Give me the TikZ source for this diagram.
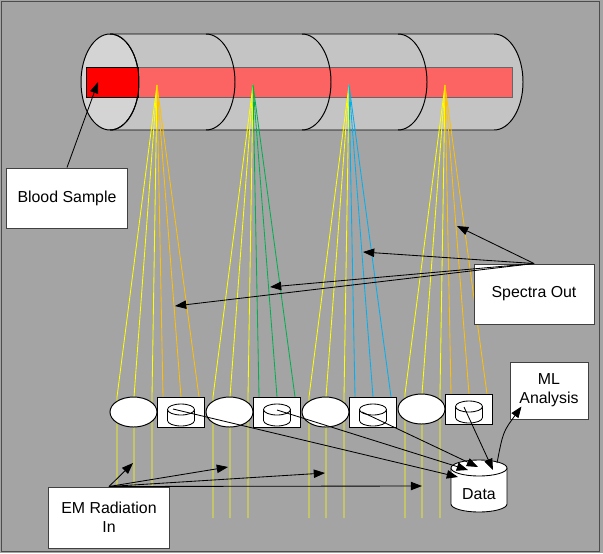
\documentclass[tikz,border=0pt]{standalone}
\usepackage{fontspec}
\setmainfont{Liberation Sans}
\definecolor{bggray}{RGB}{164,164,164}
\definecolor{tubegray}{RGB}{196,196,196}
\definecolor{facegray}{RGB}{212,212,212}
\definecolor{samplepink}{RGB}{252,100,100}
\definecolor{rayyellow}{RGB}{255,255,0}
\definecolor{rayorange}{RGB}{255,192,0}
\definecolor{raygreen}{RGB}{0,176,80}
\definecolor{rayblue}{RGB}{0,176,240}
\usetikzlibrary{shapes.geometric, arrows.meta, calc}

\begin{document}
\begin{tikzpicture}[x=0.025cm, y=-0.025cm,
  labelbox/.style={draw=black!75, fill=white, line width=0.7pt, inner sep=0pt, align=center, font=\fontsize{11.3}{13.5}\selectfont},
  sensor/.style={ellipse, draw, fill=white, line width=0.7pt, minimum width=1.175cm, minimum height=0.75cm, inner sep=0pt},
  detbox/.style={draw, fill=white, line width=0.7pt, minimum width=1.175cm, minimum height=0.75cm, inner sep=0pt},
  drum/.style={draw, fill=white, line width=0.6pt},
  ray/.style={line width=0.6pt},
  arr/.style={-{Triangle[length=8pt, width=6pt]}, line width=0.6pt}]

  % background and frame
  \fill[bggray] (0,0) rectangle (603,553);
  \draw[black!70, line width=1pt] (1.5,1.5) rectangle (599.5,551.5);

  % tube
  \fill[tubegray] (110,34) -- (494,34) arc[start angle=-90, end angle=90, x radius=29, y radius=48] -- (110,130) -- cycle;
  \draw[line width=0.7pt] (110,34) -- (494,34) arc[start angle=-90, end angle=90, x radius=29, y radius=48] -- (110,130);
  \draw[fill=facegray, line width=0.7pt] (110,82) ellipse[x radius=29, y radius=48];
  \draw[fill=samplepink, draw=black!60, line width=0.7pt] (86,67) rectangle (512,97);
  \draw[fill=red, line width=0.7pt] (86,67) rectangle (138,97);
  \foreach \cx in {110,206,302,398}
    \draw[line width=0.7pt] (\cx,34) arc[start angle=-90, end angle=90, x radius=29, y radius=48];

  % spectrometers
  \foreach \k/\yy/\col in {0/412/rayorange, 1/412/raygreen, 2/412/rayblue, 3/409/rayorange} {
    \pgfmathsetmacro{\bx}{110+96*\k}
    \pgfmathsetmacro{\cx}{\bx+71}
    \coordinate (apex\k) at (\bx+47,85);
    \foreach \dx in {7,24,42}
      \draw[ray, rayyellow] (apex\k) -- (\bx+\dx,\yy-15) -- (\bx+\dx,518);
    \foreach \dx in {53,71,89}
      \draw[ray, \col] (apex\k) -- (\bx+\dx,\yy-15);
    \node[sensor] (ell\k) at (\bx+23.5,\yy) {};
    \node[detbox] (det\k) at (\cx,\yy) {};
    \draw[drum] (\cx-13.5,\yy-2.5) -- (\cx-13.5,\yy+8.5) arc[start angle=180, end angle=0, x radius=13.5, y radius=5.5] -- (\cx+13.5,\yy-2.5);
    \draw[drum] (\cx,\yy-2.5) ellipse[x radius=13.5, y radius=5.5];
  }

  % labels
  \node[labelbox, minimum width=3cm, minimum height=1.5cm] (blood) at (67,198) {Blood Sample};
  \node[labelbox, minimum width=3cm, minimum height=1.5cm] (spec) at (534,294) {Spectra Out};
  \node[labelbox, minimum width=1.95cm, minimum height=1.425cm] (ml) at (549,390.5) {ML\\Analysis};
  \node[labelbox, minimum width=3cm, minimum height=1.525cm] (em) at (109,517.5) {EM Radiation\\In};

  % data store
  \draw[drum] (451,468) -- (451,504) arc[start angle=180, end angle=0, x radius=28, y radius=8] -- (507,468);
  \draw[drum] (479,468) ellipse[x radius=28, y radius=8];
  \node[font=\fontsize{11.3}{13.5}\selectfont, inner sep=0pt] (data) at (479,494) {Data};

  % arrows
  \coordinate (sample) at (98,82);
  \draw[arr] (blood.north) -- (sample);
  \foreach \tx/\ty [count=\i] in {457/226, 363/252, 270/287, 175/306} {
    \coordinate (spectip\i) at (\tx,\ty);
    \draw[arr] (spec.north) -- (spectip\i);
  }
  \foreach \tx/\ty [count=\i] in {133/463, 228/467, 325/473, 422/486} {
    \coordinate (emtip\i) at (\tx,\ty);
    \draw[arr] (em.north) -- (emtip\i);
  }
  \foreach \k/\sx/\sy/\tx/\ty in {0/-8/-3/-21/-17, 1/0/-2/-11/-24, 2/-11/0/-1/-27, 3/-5/-2/14/-24}
    \draw[arr] ($(det\k.center)+(\sx,\sy)$) -- ($(data.center)+(\tx,\ty)$);
  \draw[arr] ($(data.center)+(18,-31)$) .. controls (503,432) .. ($(ml.south west)+(12,-13)$);
\end{tikzpicture}
\end{document}
